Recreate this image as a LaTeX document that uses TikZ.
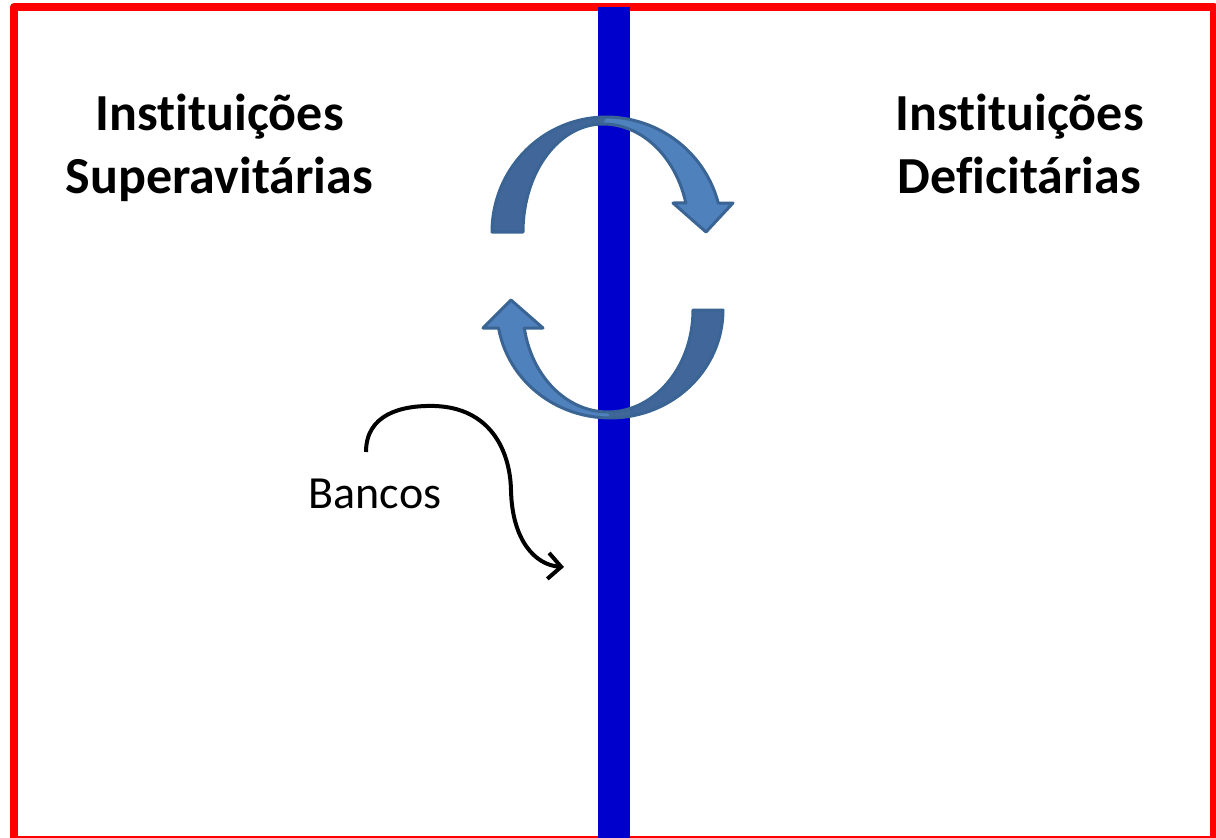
\documentclass[tikz,border=0pt]{standalone}
\usepackage{fontspec}
\setmainfont{Carlito}[Ligatures={NoCommon}, RawFeature={-liga;-clig;-dlig}]
\usetikzlibrary{arrows.meta}
\definecolor{framered}{HTML}{FF0000}
\definecolor{barblue}{HTML}{0000CC}
\definecolor{arrlight}{HTML}{4F81BD}
\definecolor{arrdark}{HTML}{41679A}
\definecolor{arrline}{HTML}{3A6494}
\tikzset{
  title/.style={font=\bfseries\fontsize{52}{63}\selectfont, align=center, anchor=base, inner sep=0pt},
  label/.style={font=\fontsize{46}{55}\selectfont, anchor=base, inner sep=0pt},
  lightpart/.style={fill=arrlight},
  darkpart/.style={fill=arrdark},
  outline/.style={draw=arrline, line width=3pt, line join=round},
  pointer/.style={line width=4pt, -{Straight Barb[length=13pt, width=26pt]}}
}
\begin{document}
\begin{tikzpicture}[x=1pt, y=-1pt]
\useasboundingbox (0,0) rectangle (1216,838);
% frame
\draw[framered, line width=8pt, line join=round] (14,7) rectangle (1214,840);
% bar
\fill[barblue] (598,7) rectangle (630,840);
% titles
\node[title] (sup) at (219.5,193) {Ins\kern0pt ti\kern0pt tui\kern0pt ções\\Superavi\kern0pt tárias};
\node[title] (def) at (1019.5,193) {Ins\kern0pt ti\kern0pt tui\kern0pt ções\\Defici\kern0pt tárias};
% top circular arrow
\path[lightpart]
  plot[domain=180:90, samples=40] ({606+114*cos(\x)},{232-115*sin(\x)})
  -- plot[domain=90:14.6, samples=40] ({606+116*cos(\x)},{232-115*sin(\x)})
  -- (733,203) -- (706,232) -- (673,203)
  -- plot[domain=15.6:90, samples=40] ({603+86*cos(\x)},{232-108*sin(\x)})
  -- plot[domain=90:180, samples=40] ({603+80*cos(\x)},{232-108*sin(\x)})
  -- cycle;
\path[darkpart]
  plot[domain=180:90, samples=40] ({606+114*cos(\x)},{232-115*sin(\x)})
  -- plot[domain=90:180, samples=40] ({603+80*cos(\x)},{232-108*sin(\x)})
  -- cycle;
\path[outline]
  plot[domain=180:90, samples=40] ({606+114*cos(\x)},{232-115*sin(\x)})
  -- plot[domain=90:14.6, samples=40] ({606+116*cos(\x)},{232-115*sin(\x)})
  -- (733,203) -- (706,232) -- (673,203)
  -- plot[domain=15.6:90, samples=40] ({603+86*cos(\x)},{232-108*sin(\x)})
  -- plot[domain=90:180, samples=40] ({603+80*cos(\x)},{232-108*sin(\x)})
  -- cycle;
% bottom circular arrow
\path[lightpart]
  plot[domain=0:170.4, samples=60] ({610+113*cos(\x)},{310+108*sin(\x)})
  -- (483,328) -- (511,300) -- (543,328)
  -- plot[domain=169.8:0, samples=60] ({608+85*cos(\x)},{310+102*sin(\x)})
  -- cycle;
\path[darkpart]
  plot[domain=0:90, samples=40] ({610+113*cos(\x)},{310+108*sin(\x)})
  -- plot[domain=90:0, samples=40] ({608+85*cos(\x)},{310+102*sin(\x)})
  -- cycle;
\path[outline]
  plot[domain=0:170.4, samples=60] ({610+113*cos(\x)},{310+108*sin(\x)})
  -- (483,328) -- (511,300) -- (543,328)
  -- plot[domain=169.8:0, samples=60] ({608+85*cos(\x)},{310+102*sin(\x)})
  -- cycle;
% Bancos
\node[label] (bancos) at (375,508) {Bancos};
\coordinate (bstart) at (366,452);
\coordinate (bend) at (564,567);
\draw[pointer] (bstart) .. controls (366,415) and (400,405) .. (435,406)
  .. controls (490,408) and (510,450) .. (511,490)
  .. controls (512,540) and (535,565) .. (bend);
\end{tikzpicture}
\end{document}
